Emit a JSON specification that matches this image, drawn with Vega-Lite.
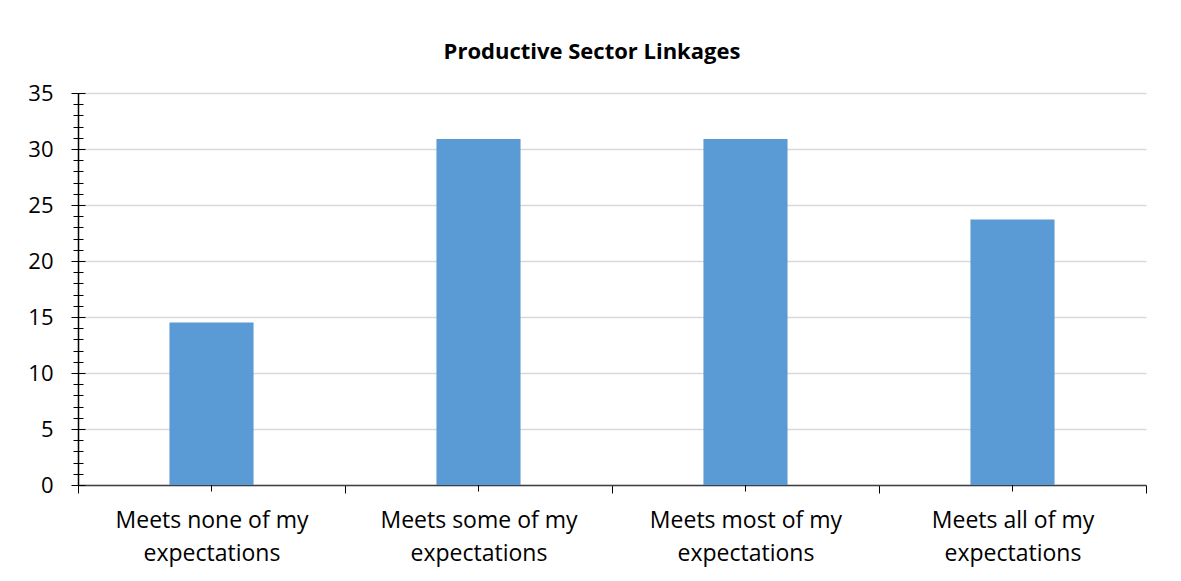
{
  "$schema": "https://vega.github.io/schema/vega-lite/v6.json",
  "autosize": "none",
  "width": 1068,
  "height": 392,
  "padding": {"left": 78, "top": 93, "right": 35, "bottom": 96},
  "background": "white",
  "title": {
    "text": "Productive Sector Linkages",
    "font": "Open Sans",
    "fontSize": 22,
    "fontWeight": "bold",
    "color": "#000000",
    "anchor": "middle",
    "dx": -20,
    "offset": 18
  },
  "config": {
    "view": {"stroke": null},
    "font": "Open Sans"
  },
  "data": {
    "values": [
      {"category": "Meets none of my expectations", "value": 14.5},
      {"category": "Meets some of my expectations", "value": 30.9},
      {"category": "Meets most of my expectations", "value": 30.9},
      {"category": "Meets all of my expectations", "value": 23.7}
    ]
  },
  "resolve": {
    "scale": {"x": "shared", "y": "shared"},
    "axis": {"x": "independent", "y": "independent"}
  },
  "layer": [
    {
      "mark": {"type": "bar", "color": "#5B9BD5", "width": {"band": 0.315}},
      "encoding": {
        "x": {
          "field": "category",
          "type": "nominal",
          "sort": null,
          "scale": {"paddingInner": 0, "paddingOuter": 0},
          "axis": {
            "orient": "bottom",
            "title": null,
            "tickBand": "extent",
            "tickSize": 8,
            "tickColor": "#000000",
            "domainColor": "#404040",
            "domainWidth": 1.5,
            "labelAngle": 0,
            "labelFont": "Open Sans",
            "labelFontSize": 23,
            "labelColor": "#000000",
            "labelLineHeight": 33,
            "labelPadding": 16,
            "labelLimit": 0,
            "labelExpr": "datum.label ? [replace(datum.label, ' expectations', ''), 'expectations'] : ''"
          }
        },
        "y": {
          "field": "value",
          "type": "quantitative",
          "scale": {"domain": [0, 35], "nice": false},
          "axis": {
            "orient": "left",
            "title": null,
            "values": [0, 5, 10, 15, 20, 25, 30, 35],
            "grid": true,
            "gridColor": "#D9D9D9",
            "gridWidth": 1.5,
            "domain": false,
            "offset": -7,
            "tickSize": 14,
            "tickColor": "#000000",
            "labelFont": "Open Sans",
            "labelFontSize": 22,
            "labelColor": "#000000",
            "labelPadding": 18
          }
        }
      }
    },
    {
      "mark": {"type": "tick", "opacity": 0},
      "encoding": {
        "x": {
          "field": "category",
          "type": "nominal",
          "sort": null,
          "axis": {
            "orient": "bottom",
            "title": null,
            "tickBand": "center",
            "offset": -6,
            "tickSize": 12,
            "tickColor": "#000000",
            "domain": false,
            "labels": false,
            "grid": false
          }
        },
        "y": {
          "field": "value",
          "type": "quantitative",
          "axis": {
            "orient": "left",
            "title": null,
            "values": [0, 1, 2, 3, 4, 5, 6, 7, 8, 9, 10, 11, 12, 13, 14, 15, 16, 17, 18, 19, 20, 21, 22, 23, 24, 25, 26, 27, 28, 29, 30, 31, 32, 33, 34, 35],
            "offset": -5,
            "tickSize": 10,
            "tickColor": "#000000",
            "domain": false,
            "labels": false,
            "grid": false
          }
        }
      }
    },
    {
      "mark": {"type": "tick", "opacity": 0},
      "encoding": {
        "y": {
          "field": "value",
          "type": "quantitative",
          "axis": {
            "orient": "left",
            "title": null,
            "ticks": false,
            "labels": false,
            "grid": false,
            "domain": true,
            "domainColor": "#000000",
            "domainWidth": 1.5
          }
        }
      }
    }
  ]
}
